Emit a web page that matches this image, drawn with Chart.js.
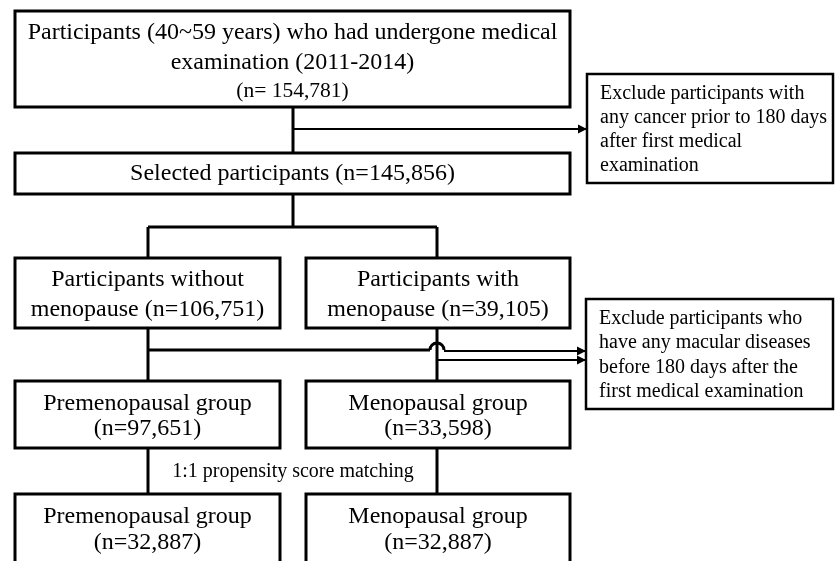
<!DOCTYPE html>
<html>
<head>
<meta charset="utf-8">
<title>Study flow</title>
<script src="https://cdn.jsdelivr.net/npm/chart.js@4"></script>
<style>
  html, body { margin: 0; padding: 0; background: #fff; }
  canvas { display: block; }
</style>
</head>
<body>
<canvas id="flow" width="836" height="561"></canvas>
<script>
// Box texts (each entry is one box, one string per line)
const boxText = [
  ['Participants (40~59 years) who had undergone medical', 'examination (2011-2014)', '(n= 154,781)'],
  ['Selected participants (n=145,856)'],
  ['Participants without', 'menopause (n=106,751)'],
  ['Participants with', 'menopause (n=39,105)'],
  ['Premenopausal group', '(n=97,651)'],
  ['Menopausal group', '(n=33,598)'],
  ['Premenopausal group', '(n=32,887)'],
  ['Menopausal group', '(n=32,887)']
];

// Exclusion notes
const excludeText = [
  ['Exclude participants with', 'any cancer prior to 180 days', 'after first medical', 'examination'],
  ['Exclude participants who', 'have any macular diseases', 'before 180 days after the', 'first medical examination']
];

const matchLabel = '1:1 propensity score matching';

// Layout in chart units (x 0..836, y 0..561 top-down)
const boxRect = [
  [15, 11, 570, 107], [15, 153, 570, 194],
  [15, 258, 280, 328], [306, 258, 570, 328],
  [15, 381, 280, 448], [306, 381, 570, 448],
  [15, 494, 280, 566], [306, 494, 570, 566]
];
const boxLineY = [[33, 63, 91], [174], [280, 310], [280, 310], [404, 429], [404, 429], [517, 543], [517, 543]];
const excludeRect = [[587, 74, 833, 183], [586, 299, 833, 409]];
const excludeLineY = [[94, 118, 142, 166], [319, 343, 368, 392]];

// Connector segments
const links = [
  [[293, 107], [293, 153]],
  [[293, 194], [293, 227]],
  [[148, 227], [437, 227]],
  [[148, 227], [148, 258]],
  [[437, 227], [437, 258]],
  [[148, 328], [148, 381]],
  [[437, 328], [437, 381]],
  [[148, 350], [430, 350]],
  [[148, 448], [148, 494]],
  [[437, 448], [437, 494]]
];
// Arrows into the exclusion boxes
const arrows = [
  [[293, 129], [587, 129]],
  [[444, 351], [586, 351]],
  [[437, 360], [586, 360]]
];
const hop = [437, 350, 7];

const SERIF = '"Liberation Serif", "Times New Roman", serif';

const datasets = links.map(seg => ({
  data: seg.map(p => ({ x: p[0], y: p[1] })),
  showLine: true,
  borderColor: '#000',
  borderWidth: 3,
  pointRadius: 0
})).concat(arrows.map(seg => ({
  data: seg.map(p => ({ x: p[0], y: p[1] })),
  showLine: true,
  borderColor: '#000',
  borderWidth: 2,
  pointRadius: 0
})));

const flowPlugin = {
  id: 'flow',
  afterDatasetsDraw(chart) {
    const ctx = chart.ctx;
    const sx = chart.scales.x;
    const sy = chart.scales.y;
    const px = v => sx.getPixelForValue(v);
    const py = v => sy.getPixelForValue(v);

    ctx.save();
    // hop over the crossing line
    ctx.strokeStyle = '#000';
    ctx.lineWidth = 3;
    ctx.beginPath();
    const r = px(hop[0] + hop[2]) - px(hop[0]);
    ctx.arc(px(hop[0]), py(hop[1]), r, Math.PI, 0);
    ctx.stroke();

    // arrow heads
    ctx.fillStyle = '#000';
    arrows.forEach(seg => {
      const tx = px(seg[1][0]);
      const ty = py(seg[1][1]);
      ctx.beginPath();
      ctx.moveTo(tx, ty);
      ctx.lineTo(tx - 9, ty - 4.5);
      ctx.lineTo(tx - 9, ty + 4.5);
      ctx.closePath();
      ctx.fill();
    });

    const drawBox = (rect, lw) => {
      const x0 = px(rect[0]), y0 = py(rect[1]);
      const x1 = px(rect[2]), y1 = py(rect[3]);
      ctx.fillStyle = '#fff';
      ctx.fillRect(x0, y0, x1 - x0, y1 - y0);
      ctx.strokeStyle = '#000';
      ctx.lineWidth = lw;
      ctx.strokeRect(x0, y0, x1 - x0, y1 - y0);
    };

    // main boxes
    boxRect.forEach((rect, i) => {
      drawBox(rect, 3);
      ctx.fillStyle = '#000';
      ctx.textAlign = 'center';
      ctx.textBaseline = 'middle';
      const cx = px((rect[0] + rect[2]) / 2);
      boxText[i].forEach((line, j) => {
        const size = (i === 0 && j === 2) ? 21.5 : 24;
        ctx.font = size + 'px ' + SERIF;
        ctx.fillText(line, cx, py(boxLineY[i][j]));
      });
    });

    // exclusion boxes
    excludeRect.forEach((rect, i) => {
      drawBox(rect, 2.5);
      ctx.fillStyle = '#000';
      ctx.textAlign = 'left';
      ctx.textBaseline = 'middle';
      ctx.font = '20px ' + SERIF;
      excludeText[i].forEach((line, j) => {
        ctx.fillText(line, px(rect[0] + 13), py(excludeLineY[i][j]));
      });
    });

    // matching label
    ctx.textAlign = 'center';
    ctx.font = '20px ' + SERIF;
    ctx.fillText(matchLabel, px(293), py(472));
    ctx.restore();
  }
};

new Chart(document.getElementById('flow'), {
  type: 'scatter',
  data: { datasets: datasets },
  options: {
    responsive: false,
    animation: false,
    devicePixelRatio: 1,
    layout: { padding: 0 },
    plugins: { legend: { display: false }, tooltip: { enabled: false } },
    scales: {
      x: { type: 'linear', min: 0, max: 836, display: false },
      y: { type: 'linear', min: 0, max: 561, reverse: true, display: false }
    }
  },
  plugins: [flowPlugin]
});
</script>
</body>
</html>
